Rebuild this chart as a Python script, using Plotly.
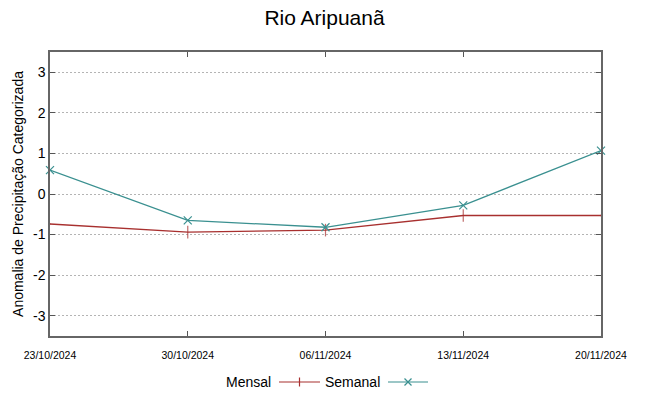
import plotly.graph_objects as go

dates = ["2024-10-23", "2024-10-30", "2024-11-06", "2024-11-13", "2024-11-20"]
tick_labels = ["23/10/2024", "30/10/2024", "06/11/2024", "13/11/2024", "20/11/2024"]
mensal = [-0.74, -0.94, -0.89, -0.53, -0.53]
semanal = [0.59, -0.65, -0.82, -0.28, 1.07]
y_ticks = [-3, -2, -1, 0, 1, 2, 3]
y_tick_labels = ["-3", "-2", "-1", "0", "1", "2", "3"]

RED = "#a8302f"
TEAL = "#3a9090"
W, H = 649, 396
L, R, T, B = 50, 48, 52, 60
PW, PH = W - L - R, H - T - B

def fx(xp):
    return (xp - L) / PW
def fy(yp):
    return (H - B - yp) / PH

fig = go.Figure()
fig.add_trace(go.Scatter(x=dates, y=mensal, mode="lines+markers", name="Mensal",
                         line=dict(color=RED, width=1.3),
                         marker=dict(symbol="line-ns", size=[1, 9, 9, 9, 1], color=RED,
                                     line=dict(color=RED, width=1.2)),
                         showlegend=False))
fig.add_trace(go.Scatter(x=dates, y=semanal, mode="lines+markers", name="Semanal",
                         line=dict(color=TEAL, width=1.3),
                         marker=dict(symbol="x-thin", size=8, color=TEAL,
                                     line=dict(color=TEAL, width=1.2)),
                         cliponaxis=False, showlegend=False))

# custom legend (gnuplot style: text then sample)
shapes = []
ly = 382
for (x0, x1, col, kind) in [(279, 320, RED, "+"), (388, 428, TEAL, "x")]:
    shapes.append(dict(type="line", xref="paper", yref="paper",
                       x0=fx(x0), x1=fx(x1), y0=fy(ly), y1=fy(ly),
                       line=dict(color=col, width=1.2)))
    cx = (x0 + x1) / 2
    if kind == "+":
        shapes.append(dict(type="line", xref="paper", yref="paper",
                           x0=fx(cx), x1=fx(cx), y0=fy(ly - 4.5), y1=fy(ly + 4.5),
                           line=dict(color=col, width=1.2)))
    else:
        for s in (1, -1):
            shapes.append(dict(type="line", xref="paper", yref="paper",
                               x0=fx(cx - 3.5), x1=fx(cx + 3.5),
                               y0=fy(ly - 3.5 * s), y1=fy(ly + 3.5 * s),
                               line=dict(color=col, width=1.2)))

fig.update_layout(
    width=W, height=H,
    margin=dict(l=L, r=R, t=T, b=B),
    paper_bgcolor="white", plot_bgcolor="white",
    font=dict(family="Liberation Sans, Arial, sans-serif", color="#000000"),
    title=dict(text="Rio Aripuanã", x=0.5, xref="container", xanchor="center",
               y=1 - 18 / H, yref="container", yanchor="middle",
               font=dict(size=21, family="Liberation Sans, Arial, sans-serif")),
    xaxis=dict(type="date", range=["2024-10-23", "2024-11-20"],
               tickvals=dates, ticktext=tick_labels,
               tickfont=dict(size=10.5, family="Liberation Sans Narrow, Liberation Sans, Arial"),
               ticks="inside", ticklen=5, tickcolor="#555555", ticklabelstandoff=9,
               showgrid=False, zeroline=False, automargin=False,
               showline=True, linecolor="#666666", linewidth=1.5, mirror="ticks"),
    yaxis=dict(range=[-3.5, 3.5], tickvals=y_ticks, ticktext=y_tick_labels,
               tickfont=dict(size=14),
               ticks="inside", ticklen=5, tickcolor="#555555",
               showgrid=True, gridcolor="#b4b4b4", griddash="2px,2px", gridwidth=1,
               zeroline=False, automargin=False,
               showline=True, linecolor="#666666", linewidth=1.5, mirror="ticks",
               title=dict(text="Anomalia de Precipitação Categorizada", font=dict(size=14), standoff=6)),
    shapes=shapes,
    annotations=[
        dict(text="Mensal", x=fx(273), y=fy(382), xref="paper", yref="paper",
             xanchor="right", yanchor="middle", showarrow=False, font=dict(size=14)),
        dict(text="Semanal", x=fx(382), y=fy(382), xref="paper", yref="paper",
             xanchor="right", yanchor="middle", showarrow=False, font=dict(size=14)),
    ],
)

fig.write_html("out.html", config={"displayModeBar": False},
               post_script="document.body.style.margin='0';document.body.style.overflow='hidden';")
